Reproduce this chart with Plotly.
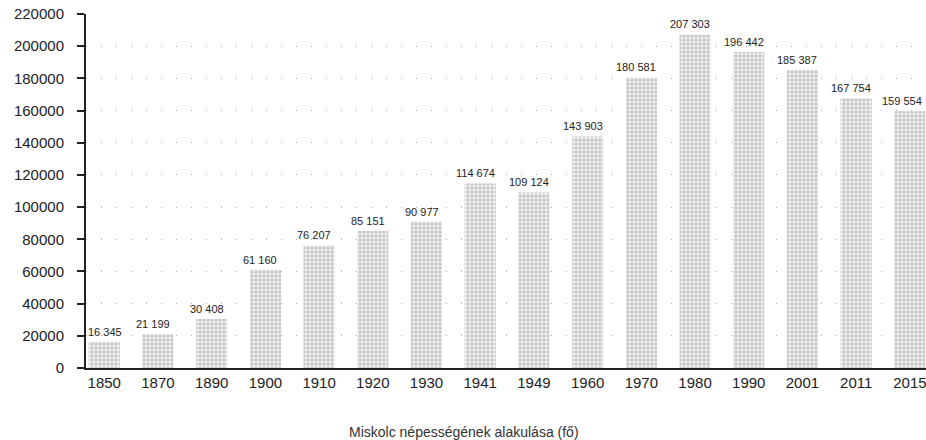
import plotly.graph_objects as go

years = ["1850", "1870", "1890", "1900", "1910", "1920", "1930", "1941",
         "1949", "1960", "1970", "1980", "1990", "2001", "2011", "2015"]
population = [16345, 21199, 30408, 61160, 76207, 85151, 90977, 114674,
              109124, 143903, 180581, 207303, 196442, 185387, 167754, 159554]
labels = ["16 345", "21 199", "30 408", "61 160", "76 207", "85 151", "90 977", "114 674",
          "109 124", "143 903", "180 581", "207 303", "196 442", "185 387", "167 754", "159 554"]
y_ticks = list(range(0, 220001, 20000))
title_text = "Miskolc népességének alakulása (fő)"

FONT = "Liberation Sans, Arial, sans-serif"

fig = go.Figure(go.Bar(
    x=years,
    y=population,
    marker=dict(
        color="#e4e4e4",
        line=dict(width=0),
        pattern=dict(shape=".", fgcolor="#9a9a9a", bgcolor="#ececec",
                     size=4, solidity=0.45),
    ),
))

# value labels above the bars, placed by category index on the axes
annotations = []
n = len(years)
for i, (val, lab) in enumerate(zip(population, labels)):
    shift = 1 if i == 0 else (-8 if i == n - 1 else -5)
    annotations.append(dict(
        x=i, y=val, xref="x", yref="y", text=lab, showarrow=False,
        xanchor="center", yanchor="bottom", xshift=shift, yshift=2,
        font=dict(family=FONT, size=11, color="#222"),
    ))

annotations.append(dict(
    text=title_text, xref="paper", yref="paper",
    x=0.45, y=-0.181, xanchor="center", yanchor="middle",
    showarrow=False, font=dict(family=FONT, size=14, color="#333"),
))

fig.update_layout(
    width=926, height=440,
    margin=dict(l=86, r=0, t=14, b=72, autoexpand=False),
    paper_bgcolor="white",
    plot_bgcolor="white",
    bargap=0.42,
    showlegend=False,
    font=dict(family=FONT, size=15, color="#222"),
    annotations=annotations,
)

fig.update_xaxes(
    type="category",
    range=[-0.34, 15.3],
    showline=True, linecolor="#222", linewidth=2,
    ticks="", showgrid=False,
    tickfont=dict(family=FONT, size=15, color="#222"),
)
fig.update_yaxes(
    range=[0, 220000],
    tickvals=y_ticks,
    ticktext=[str(v) for v in y_ticks],
    showline=True, linecolor="#222", linewidth=2,
    ticks="outside", ticklen=7, tickwidth=1.5, tickcolor="#222",
    ticklabelstandoff=10,
    showgrid=True, gridcolor="#aaaaaa", gridwidth=1, griddash="1px,14px",
    zeroline=False,
    tickfont=dict(family=FONT, size=15, color="#222"),
)

fig.write_html("out.html",
               config={"displayModeBar": False},
               post_script="document.body.style.margin='0';document.body.style.overflow='hidden';")
